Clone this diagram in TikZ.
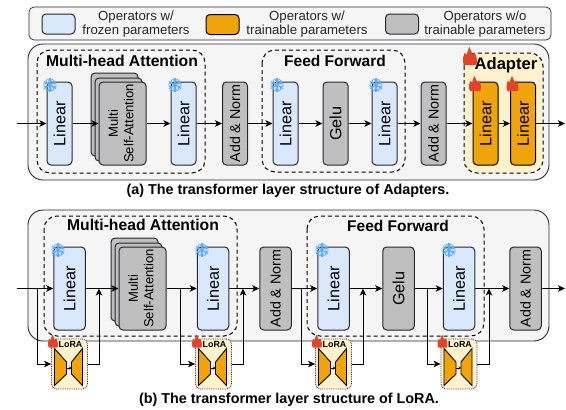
\documentclass[tikz,border=0pt]{standalone}
\usepackage{fontspec}
\usepackage{graphicx}
\setmainfont{Liberation Sans}
\usetikzlibrary{arrows.meta}
\definecolor{frozen}{HTML}{DAE8FC}
\definecolor{train}{HTML}{F0A30A}
\definecolor{grayop}{HTML}{BFBFBF}
\definecolor{panel}{HTML}{F5F5F5}
\definecolor{cream}{HTML}{FFF2CC}
\definecolor{edgec}{HTML}{26282C}
\definecolor{flamec}{HTML}{E0452B}
\definecolor{snowc}{HTML}{5CADFF}
\newcommand{\rot}[1]{\rotatebox{90}{#1}}
\tikzset{
  panelbox/.style={draw=edgec,fill=panel,line width=.9pt,rounded corners=15pt,inner sep=0pt},
  legendbox/.style={draw=edgec,fill=panel,line width=.7pt,rounded corners=5pt,inner sep=0pt},
  swatch/.style={draw=edgec,line width=1pt,rounded corners=4pt,minimum width=33pt,minimum height=20pt,inner sep=0pt},
  op/.style={draw=edgec,line width=1pt,rounded corners=4pt,minimum height=83pt,minimum width=25pt,inner sep=0pt,font=\fontsize{16.2}{18}\selectfont},
  wideop/.style={op,minimum width=31.5pt},
  stackop/.style={op,minimum width=47pt,fill=grayop,font=\fontsize{13.1}{15.5}\selectfont},
  froz/.style={fill=frozen},
  tra/.style={fill=train,draw=black},
  gr/.style={fill=grayop},
  an/.style={font=\fontsize{14.3}{16}\selectfont},
  group/.style={draw=black,dashed,dash pattern=on 4pt off 3pt,line width=1pt,rounded corners=13pt,inner sep=0pt},
  title/.style={font=\bfseries\fontsize{15.7}{18}\selectfont,inner sep=0pt},
  titleb/.style={font=\bfseries\fontsize{15.5}{18}\selectfont,inner sep=0pt},
  titlec/.style={font=\bfseries\fontsize{16.6}{18}\selectfont,inner sep=0pt},
  legtext/.style={font=\fontsize{13.2}{14}\selectfont,align=center,inner sep=0pt,text=black!85},
  capt/.style={font=\bfseries\fontsize{14.35}{16}\selectfont,inner sep=0pt},
  arr/.style={-{Stealth[length=7pt,width=6.5pt,inset=1.8pt]},line width=1pt,black},
  lorabox/.style={draw=edgec,densely dotted,line width=.8pt,fill=cream,rounded corners=5pt,minimum width=36pt,minimum height=50pt,inner sep=0pt},
  loratext/.style={font=\bfseries\fontsize{8.9}{10}\selectfont,inner sep=0pt},
  flame/.pic={\fill[flamec] (-.42,.5) .. controls (-.5,.42) and (-.5,.3) .. (-.5,.12)
     .. controls (-.5,.02) and (-.42,-.06) .. (-.38,-.18) .. controls (-.32,-.1) and (-.3,-.08) .. (-.24,-.06)
     .. controls (-.22,-.24) and (-.12,-.36) .. (-.04,-.5) .. controls (.02,-.34) and (.14,-.22) .. (.2,-.08)
     .. controls (.26,-.08) and (.3,-.14) .. (.32,-.2) .. controls (.42,-.04) and (.5,.08) .. (.5,.22)
     .. controls (.5,.34) and (.48,.44) .. (.42,.5) -- cycle;},
  snow/.pic={\foreach \a in {0,60,...,300}{
     \begin{scope}[rotate=\a]
     \draw[snowc,line width=1.2pt] (0,0) -- (0,-7);
     \draw[snowc,line width=1pt] (-2.6,-6) -- (0,-3.6) -- (2.6,-6);
     \end{scope}}},
  lorainner/.pic={
     \draw[fill=train,draw=black,line width=.9pt] (-15,-18.5) -- (-3,-5) -- (-3,7) -- (-15,18.5) -- cycle;
     \draw[fill=train,draw=black,line width=.9pt] (13,-18.5) -- (2,-5) -- (2,7) -- (13,18.5) -- cycle;
     \draw[-{Stealth[length=2.5pt,width=3pt]},line width=.6pt,black] (-3,1) -- (2,1);},
}
\begin{document}
\begin{tikzpicture}[x=1pt,y=-1pt]
\useasboundingbox (0,0) rectangle (566,410);
% legend
\draw[legendbox] (29,7) rectangle (551,40);
\node[swatch,froz] (s1) at (58.5,24) {};
\node[legtext] (t1) at (136,24) {Operators w/\\frozen parameters};
\node[swatch,fill=train,draw=black] (s2) at (222.5,24.5) {};
\node[legtext] (t2) at (307,24) {Operators w/\\trainable parameters};
\node[swatch,gr] (s3) at (402,24) {};
\node[legtext] (t3) at (485,24) {Operators w/o\\trainable parameters};
% panel a
\draw[panelbox] (28,44) rectangle (549,180);
\draw[group] (37,50) rectangle (205,173);
\draw[group] (262,50) rectangle (405,172);
\draw[group,fill=cream] (464,53) rectangle (543,173);
\node[title] (ta) at (122,61) {Multi-head Attention};
\node[titleb] (tb) at (335,61) {Feed Forward};
\node[titlec] (tc) at (506,65) {Adapter};
\node[op,froz] (a1) at (59.5,123.5) {\rot{Linear}};
\node[stackop] (a2c) at (114.5,114.5) {};
\node[stackop] (a2b) at (118.5,119.5) {};
\node[stackop] (a2) at (122.5,123.5) {\rot{\begin{tabular}{@{}c@{}}Multi\\Self-Attention\end{tabular}}};
\node[op,froz] (a3) at (183.5,123.5) {\rot{Linear}};
\node[op,gr,an] (a4) at (235,123.5) {\rot{Add \& Norm}};
\node[op,froz] (a5) at (285.5,123.5) {\rot{Linear}};
\node[op,gr] (a6) at (335.5,123.5) {\rot{Gelu}};
\node[op,froz] (a7) at (384.5,123.5) {\rot{Linear}};
\node[op,gr,an] (a8) at (433.5,123.5) {\rot{Add \& Norm}};
\node[op,tra] (a9) at (485.5,123.5) {\rot{Linear}};
\node[op,tra] (a10) at (523,123.5) {\rot{Linear}};
\coordinate (ain) at (17,123.5);
\coordinate (aout) at (565,123.5);
\draw[arr] (ain) -- (a1.west);
\draw[arr] (a1.east) -- (a2.west);
\draw[arr] (a2.east) -- (a3.west);
\draw[arr] (a3.east) -- (a4.west);
\draw[arr] (a4.east) -- (a5.west);
\draw[arr] (a5.east) -- (a6.west);
\draw[arr] (a6.east) -- (a7.west);
\draw[arr] (a7.east) -- (a8.west);
\draw[arr] (a8.east) -- (a9.west);
\draw[arr] (a9.east) -- (a10.west);
\draw[arr] (a10.east) -- (aout);
\foreach \x in {50,175,277,376} \pic at (\x,85) {snow};
\pic[xscale=14,yscale=18] at (470,56) {flame};
\pic[xscale=12,yscale=15] at (475,83.5) {flame};
\pic[xscale=12,yscale=15] at (512.5,83.5) {flame};
\node[capt] (capa) at (288,191) {(a) The transformer layer structure of Adapters.};
% panel b
\draw[panelbox] (28,210) rectangle (549,341);
\draw[group] (44,216) rectangle (237,336);
\draw[group] (307,216) rectangle (484,336);
\node[title] (td) at (143,225) {Multi-head Attention};
\node[titleb] (te) at (398,226) {Feed Forward};
\node[wideop,froz] (b1) at (69.5,288.5) {\rot{Linear}};
\node[stackop] (b2c) at (134.5,279.5) {};
\node[stackop] (b2b) at (138.5,284.5) {};
\node[stackop] (b2) at (142.5,288.5) {\rot{\begin{tabular}{@{}c@{}}Multi\\Self-Attention\end{tabular}}};
\node[wideop,froz] (b3) at (213,288.5) {\rot{Linear}};
\node[wideop,gr,an] (b4) at (275.5,288.5) {\rot{Add \& Norm}};
\node[wideop,froz] (b5) at (333.5,288.5) {\rot{Linear}};
\node[wideop,gr] (b6) at (398.5,288.5) {\rot{Gelu}};
\node[wideop,froz] (b7) at (459,288.5) {\rot{Linear}};
\node[wideop,gr,an] (b8) at (525.5,288.5) {\rot{Add \& Norm}};
\coordinate (bin) at (17,288.5);
\coordinate (bout) at (565,288.5);
\draw[arr] (bin) -- (b1.west);
\draw[arr] (b1.east) -- (b2.west);
\draw[arr] (b2.east) -- (b3.west);
\draw[arr] (b3.east) -- (b4.west);
\draw[arr] (b4.east) -- (b5.west);
\draw[arr] (b5.east) -- (b6.west);
\draw[arr] (b6.east) -- (b7.west);
\draw[arr] (b7.east) -- (b8.west);
\draw[arr] (b8.east) -- (bout);
\foreach \x in {58,202,322,449} \pic at (\x,250) {snow};
% LoRA modules
\foreach \n/\x/\i/\o in {1/69.5/37/99,2/213.5/180/243,3/333.5/301/363,4/459/427/489}{
  \node[lorabox] (l\n) at (\x,364) {};
  \node[loratext] (lt\n) at (\x+1,344) {LoRA};
  \pic at (\x,367) {lorainner};
  \pic[xscale=10,yscale=13] at (\x-16.5,341) {flame};
  \coordinate (bi\n) at (\i,288.5);
  \coordinate (bo\n) at (\o,288.5);
  \draw[arr] (bi\n) |- (l\n.west);
  \draw[arr] (l\n.east) -| (bo\n);
}
\node[capt] (capb) at (289,400) {(b) The transformer layer structure of LoRA.};
\end{tikzpicture}
\end{document}
